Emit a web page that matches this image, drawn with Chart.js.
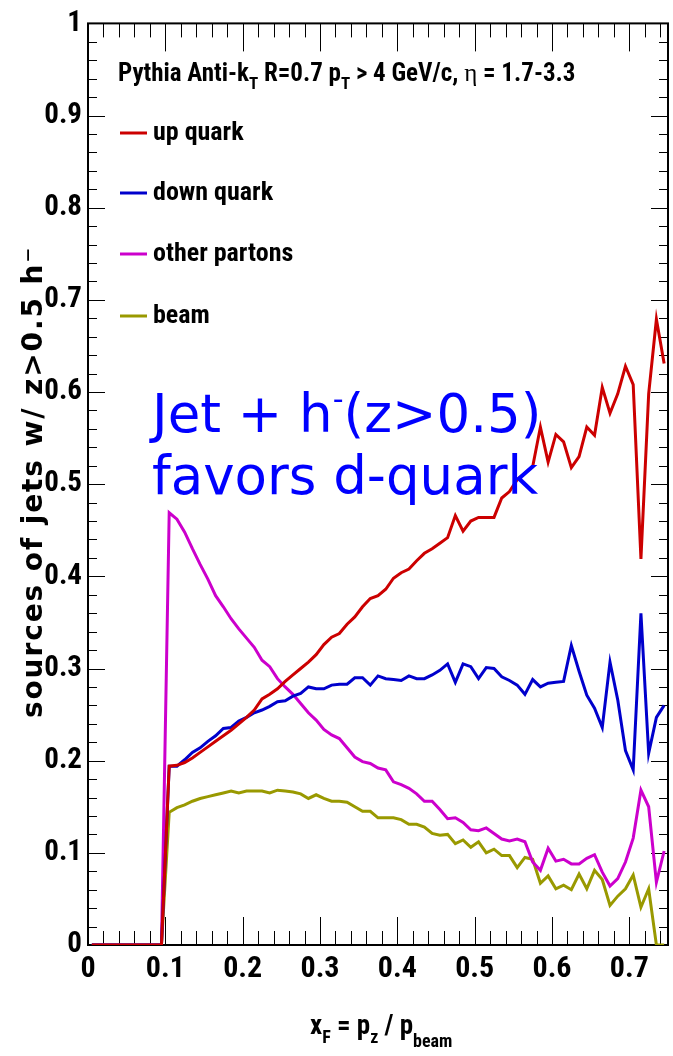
<!DOCTYPE html>
<html>
<head>
<title>sources of jets w/ z&gt;0.5 h-</title>
<script src="https://cdn.jsdelivr.net/npm/chart.js@4.4.0/dist/chart.umd.min.js"></script>
<style>
  body { margin: 0; background: #fff; }
  #wrap { width: 673px; height: 1056px; }
</style>
</head>
<body>
<div id="wrap"><canvas id="canvas"></canvas></div>
<script>
// bin centres of x_F
var xF = [0.005, 0.015, 0.025, 0.035, 0.045, 0.055, 0.065, 0.075, 0.085, 0.095,
          0.105, 0.115, 0.125, 0.135, 0.145, 0.155, 0.165, 0.175, 0.185, 0.195,
          0.205, 0.215, 0.225, 0.235, 0.245, 0.255, 0.265, 0.275, 0.285, 0.295,
          0.305, 0.315, 0.325, 0.335, 0.345, 0.355, 0.365, 0.375, 0.385, 0.395,
          0.405, 0.415, 0.425, 0.435, 0.445, 0.455, 0.465, 0.475, 0.485, 0.495,
          0.505, 0.515, 0.525, 0.535, 0.545, 0.555, 0.565, 0.575, 0.585, 0.595,
          0.605, 0.615, 0.625, 0.635, 0.645, 0.655, 0.665, 0.675, 0.685, 0.695,
          0.705, 0.715, 0.725, 0.735, 0.745];

var upQuark = [0, 0, 0, 0, 0, 0, 0, 0, 0, 0,
    0.194, 0.195, 0.198, 0.203, 0.209, 0.215, 0.221, 0.227, 0.233, 0.240,
    0.247, 0.255, 0.267, 0.272, 0.278, 0.286, 0.293, 0.300, 0.307, 0.315,
    0.326, 0.334, 0.338, 0.348, 0.356, 0.367, 0.376, 0.379, 0.386, 0.398,
    0.404, 0.408, 0.417, 0.425, 0.430, 0.436, 0.442, 0.466, 0.449, 0.460,
    0.464, 0.464, 0.464, 0.485, 0.492, 0.505, 0.512, 0.519, 0.562, 0.524,
    0.554, 0.546, 0.518, 0.530, 0.562, 0.553, 0.605, 0.577, 0.598, 0.628,
    0.608, 0.419, 0.598, 0.679, 0.631];

var downQuark = [0, 0, 0, 0, 0, 0, 0, 0, 0, 0,
    0.194, 0.194, 0.201, 0.209, 0.214, 0.221, 0.227, 0.235, 0.236, 0.243,
    0.247, 0.252, 0.255, 0.259, 0.264, 0.265, 0.270, 0.273, 0.280, 0.278,
    0.278, 0.282, 0.283, 0.283, 0.290, 0.290, 0.282, 0.292, 0.289, 0.288,
    0.287, 0.292, 0.289, 0.289, 0.293, 0.298, 0.305, 0.285, 0.305, 0.302,
    0.289, 0.301, 0.300, 0.291, 0.287, 0.282, 0.272, 0.288, 0.280, 0.284,
    0.285, 0.286, 0.325, 0.297, 0.271, 0.257, 0.236, 0.307, 0.266, 0.211,
    0.190, 0.360, 0.208, 0.247, 0.260];

var otherPartons = [0, 0, 0, 0, 0, 0, 0, 0, 0, 0,
    0.469, 0.462, 0.448, 0.430, 0.413, 0.397, 0.379, 0.367, 0.354, 0.343,
    0.333, 0.323, 0.309, 0.302, 0.289, 0.280, 0.272, 0.262, 0.252, 0.244,
    0.234, 0.228, 0.224, 0.214, 0.204, 0.199, 0.197, 0.192, 0.190, 0.177,
    0.174, 0.170, 0.164, 0.156, 0.156, 0.147, 0.137, 0.138, 0.133, 0.125,
    0.124, 0.127, 0.121, 0.115, 0.113, 0.115, 0.112, 0.090, 0.081, 0.105,
    0.091, 0.093, 0.088, 0.088, 0.094, 0.098, 0.079, 0.064, 0.072, 0.090,
    0.116, 0.168, 0.150, 0.068, 0.102];

var beam = [0, 0, 0, 0, 0, 0, 0, 0, 0, 0,
    0.144, 0.149, 0.152, 0.156, 0.159, 0.161, 0.163, 0.165, 0.167, 0.165,
    0.167, 0.167, 0.167, 0.165, 0.168, 0.167, 0.166, 0.164, 0.159, 0.163,
    0.159, 0.156, 0.156, 0.155, 0.150, 0.145, 0.145, 0.138, 0.138, 0.138,
    0.136, 0.131, 0.131, 0.128, 0.121, 0.119, 0.120, 0.110, 0.114, 0.106,
    0.112, 0.100, 0.104, 0.097, 0.097, 0.084, 0.095, 0.093, 0.067, 0.075,
    0.061, 0.065, 0.060, 0.077, 0.061, 0.081, 0.071, 0.043, 0.053, 0.061,
    0.076, 0.041, 0.061, 0, 0];

var seriesNames  = ['up quark', 'down quark', 'other partons', 'beam'];
var seriesColors = ['#cc0000', '#0000cc', '#cc00cc', '#999900'];
var seriesValues = [upQuark, downQuark, otherPartons, beam];

var NARROW = "'Liberation Sans Narrow', 'Roboto Condensed', 'Liberation Sans', sans-serif";

function toPoints(vals) {
    var pts = [];
    for (var i = 0; i < xF.length; i++) pts.push({ x: xF[i], y: vals[i] });
    return pts;
}

var datasets = [];
for (var s = 0; s < seriesNames.length; s++) {
    datasets.push({
        label: seriesNames[s],
        data: toPoints(seriesValues[s]),
        borderColor: seriesColors[s],
        borderWidth: 3,
        pointRadius: 0,
        tension: 0,
        fill: false
    });
}

// draws text pieces in a row, dy shifts sub/superscripts
function drawPieces(ctx, x, y, pieces) {
    for (var i = 0; i < pieces.length; i++) {
        var p = pieces[i];
        ctx.font = p.font;
        ctx.fillText(p.t, x, y + (p.dy || 0));
        x += ctx.measureText(p.t).width;
    }
}

var frameAndTicks = {
    id: 'frameAndTicks',
    beforeDatasetsDraw: function(chart) {
        var ctx = chart.ctx, a = chart.chartArea;
        var xs = chart.scales.x, ys = chart.scales.y;
        ctx.save();
        ctx.strokeStyle = '#000';
        ctx.lineWidth = 1;
        ctx.beginPath();
        for (var i = 0; i <= 50; i++) {
            var py = Math.round(ys.getPixelForValue(i * 0.02)) + 0.5;
            var len = (i % 5 === 0) ? 17 : 9;
            ctx.moveTo(a.left, py); ctx.lineTo(a.left + len, py);
            ctx.moveTo(a.right, py); ctx.lineTo(a.right - len, py);
        }
        for (var j = 0; j <= 37; j++) {
            var px = Math.round(xs.getPixelForValue(j * 0.02)) + 0.5;
            var l2 = (j % 5 === 0) ? 28 : 14;
            ctx.moveTo(px, a.bottom); ctx.lineTo(px, a.bottom - l2);
            ctx.moveTo(px, a.top); ctx.lineTo(px, a.top + l2);
        }
        ctx.stroke();
        ctx.lineWidth = 2;
        ctx.strokeRect(a.left, a.top, a.right - a.left, a.bottom - a.top);
        ctx.restore();
    },
    afterDraw: function(chart) {
        var ctx = chart.ctx;
        ctx.save();
        ctx.fillStyle = '#000';
        ctx.textBaseline = 'alphabetic';
        ctx.textAlign = 'left';

        // header
        var b = 'bold 25px ' + NARROW, bs = 'bold 17px ' + NARROW;
        drawPieces(ctx, 118, 81, [
            { t: 'Pythia Anti-k', font: b },
            { t: 'T', font: bs, dy: 8 },
            { t: ' R=0.7 p', font: b },
            { t: 'T', font: bs, dy: 8 },
            { t: ' > 4 GeV/c, ', font: b },
            { t: '\u03b7', font: '25px "Liberation Serif", serif' },
            { t: ' = 1.7-3.3', font: b }
        ]);

        // legend
        var ds = chart.data.datasets;
        var legY = [133, 193, 254, 316];
        for (var k = 0; k < ds.length; k++) {
            ctx.strokeStyle = ds[k].borderColor;
            ctx.lineWidth = 3;
            ctx.beginPath();
            ctx.moveTo(120, legY[k]); ctx.lineTo(147, legY[k]);
            ctx.stroke();
            ctx.font = 'bold 26px ' + NARROW;
            ctx.textBaseline = 'middle';
            ctx.fillText(ds[k].label, 153, legY[k]);
        }
        ctx.textBaseline = 'alphabetic';

        // annotation
        ctx.fillStyle = '#0000ff';
        var big = '53px "DejaVu Sans", sans-serif';
        drawPieces(ctx, 152, 432, [
            { t: 'Jet + h', font: big },
            { t: '-', font: '30px "DejaVu Sans", sans-serif', dy: -23 },
            { t: '(z>0.5)', font: big }
        ]);
        ctx.font = big;
        ctx.fillText('favors d-quark', 152, 494);

        // x title
        ctx.fillStyle = '#000';
        var xb = 'bold 27px ' + NARROW, xs2 = 'bold 18px ' + NARROW;
        drawPieces(ctx, 310, 1034, [
            { t: 'x', font: xb },
            { t: 'F', font: xs2, dy: 9 },
            { t: ' = p', font: xb },
            { t: 'z', font: xs2, dy: 9 },
            { t: ' / p', font: xb },
            { t: 'beam', font: xs2, dy: 13 }
        ]);

        // y title, stretched to the length it has in the original
        var yTitle = 'sources of jets w/ z>0.5 h\u207b';
        ctx.translate(42, 482);
        ctx.rotate(-Math.PI / 2);
        ctx.textAlign = 'center';
        ctx.font = 'bold 28px "DejaVu Sans", sans-serif';
        var w = ctx.measureText(yTitle).width;
        var gap = Math.max(0, (470 - w) / (yTitle.length - 1));
        ctx.letterSpacing = gap.toFixed(1) + 'px';
        ctx.fillText(yTitle, 0, 0);
        ctx.restore();
    }
};

function tickText(v) {
    if (Math.abs(v) < 1e-9) return '0';
    if (Math.abs(v - 1) < 1e-9) return '1';
    return v.toFixed(1);
}

var context = document.getElementById('canvas').getContext('2d');
var myChart = new Chart(context, {
    type: 'line',
    data: { datasets: datasets },
    options: {
        responsive: true,
        maintainAspectRatio: false,
        animation: false,
        layout: { padding: { top: 18, right: 5, left: 0, bottom: 0 } },
        plugins: { legend: { display: false }, tooltip: { enabled: false } },
        scales: {
            x: {
                type: 'linear',
                min: 0, max: 0.75,
                grid: { display: false, drawTicks: false },
                border: { display: false },
                ticks: {
                    stepSize: 0.1, includeBounds: false, padding: 6,
                    maxRotation: 0, autoSkip: false,
                    color: '#000', font: { family: NARROW, size: 30, weight: 'bold' },
                    callback: function(v) { return tickText(v); }
                },
                afterFit: function(sc) { sc.height = 111; }
            },
            y: {
                min: 0, max: 1,
                grid: { display: false, drawTicks: false },
                border: { display: false },
                ticks: {
                    stepSize: 0.1, padding: 6, autoSkip: false,
                    color: '#000', font: { family: NARROW, size: 29, weight: 'bold' },
                    callback: function(v) { return tickText(v); }
                },
                afterFit: function(sc) { sc.width = 88; }
            }
        }
    },
    plugins: [frameAndTicks]
});
</script>
</body>
</html>
